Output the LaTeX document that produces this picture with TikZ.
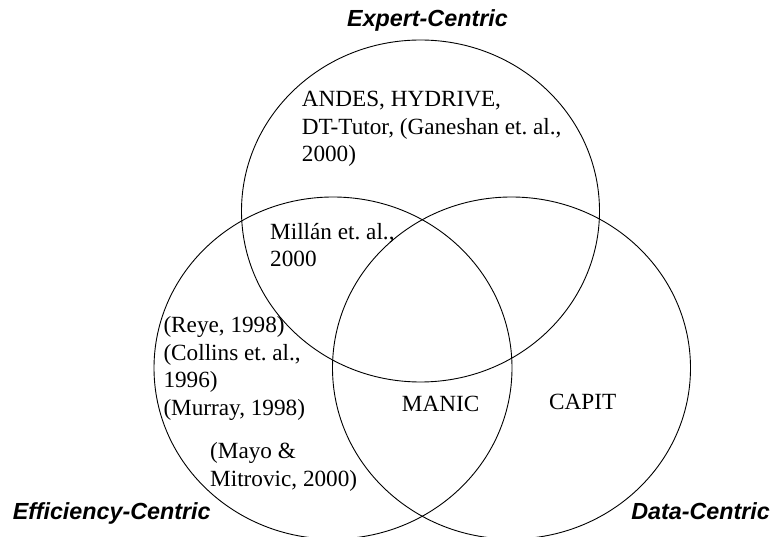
\documentclass[tikz,border=0pt]{standalone}
\usepackage{fontspec}
\setmainfont{Liberation Serif}
\setsansfont{Liberation Sans}
\frenchspacing
\tikzset{
	ring/.style={line width=0.9pt},
	entry/.style={anchor=base west, inner sep=0pt, align=left, font=\fontsize{23.2}{27.5}\selectfont},
	centric/.style={anchor=base, inner sep=0pt, font=\sffamily\bfseries\itshape\fontsize{23.3}{28}\selectfont}
}

\begin{document}
\begin{tikzpicture}[x=1pt, y=-1pt]
			%%%%% START %%%%%
			\useasboundingbox (0, 0) rectangle (774, 537);
			
			\draw[ring] (420.5, 211) ellipse (179 and 171);
			\draw[ring] (333, 368) ellipse (179 and 171);
			\draw[ring] (511.5, 368) ellipse (179 and 171);
			
			\node[centric] (expert) at (427.5, 26.7) {Expert-Centric};
			\node[centric, anchor=base west] (efficiency) at (12.7, 519.5) {Efficiency-Centric};
			\node[centric, anchor=base east] (data) at (770, 519.5) {Data-Centric};
			
			% base of a multi-line node sits on its last line
			\node[entry] (andes) at (301.7, 162) {ANDES, HYDRIVE,\\DT-Tutor, (Ganeshan et. al.,\\2000)};
			\node[entry] (millan) at (270, 266.7) {Millán et. al.,\\2000};
			\node[entry] (reye) at (163.3, 415) {(Reye, 1998)\\(Collins et. al.,\\1996)\\(Murray, 1998)};
			\node[entry] (mayo) at (210, 486) {(Mayo \&\\Mitrovic, 2000)};
			\node[entry] (manic) at (401.7, 411.7) {MANIC};
			\node[entry] (capit) at (549, 409) {CAPIT};
			%%%%% END %%%%%
\end{tikzpicture}
\end{document}
